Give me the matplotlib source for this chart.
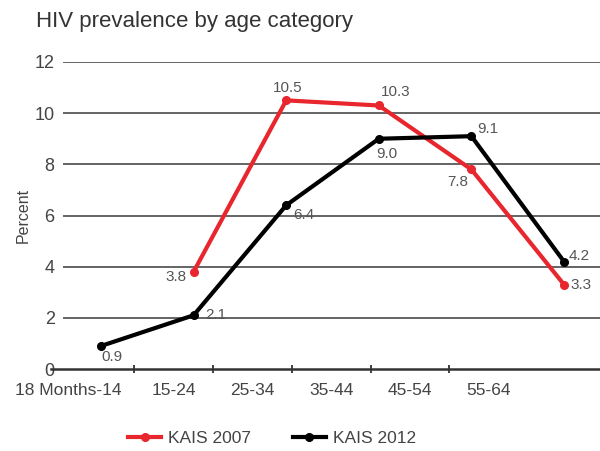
import matplotlib
matplotlib.use('Agg')
import matplotlib.pyplot as plt
from matplotlib.transforms import ScaledTranslation
import numpy as np

plt.rcParams['font.family'] = ['Liberation Sans', 'DejaVu Sans']

categories = ['18 Months-14', '15-24', '25-34', '35-44', '45-54', '55-64']
kais2007 = [np.nan, 3.8, 10.5, 10.3, 7.8, 3.3]
kais2012 = [0.9, 2.1, 6.4, 9.0, 9.1, 4.2]
# label offsets in points (dx, dy)
off2007 = [None, (-13, -4), (1, 9), (12, 10), (-10, -9), (12, 0)]
off2012 = [(8, -8), (16, 0), (13, -7), (6, -11), (12, 5), (11, 4)]

red = '#e8262d'
grey = '#444444'

fig = plt.figure(figsize=(6, 4.51), dpi=100)
W, H = 600, 451
ax = fig.add_axes([63/W, 1-369/H, 1-63/W, (369-62)/H])

# category frame (labels + ticks)
cw = 78.75
ax.set_xlim((63-95)/cw, (600-95)/cw)
ax.set_ylim(0, 12)
for s in ax.spines.values():
	s.set_visible(False)
for y in range(2, 13, 2):
	ax.axhline(y, color='#3a3a3a', lw=1.1, zorder=1)
ax.axhline(0, xmin=-12/537, xmax=1, color='#333333', lw=1.8, clip_on=False, zorder=2)
ax.set_yticks(range(0, 13, 2))
ax.tick_params(axis='y', length=0, pad=6, labelsize=13, labelcolor=grey)
# boundary ticks between categories
ax.vlines(np.arange(len(categories)-1)+0.5, -0.16, 0.16, color='#333333', lw=1.3,
	clip_on=False, zorder=4)
ax.set_xticks(np.arange(len(categories)))
ax.set_xticklabels(categories)
ax.tick_params(axis='x', length=0, pad=10, labelsize=12.5, labelcolor=grey)
lab0 = ax.get_xticklabels()[0]
lab0.set_transform(lab0.get_transform() + ScaledTranslation(-0.27, 0, fig.dpi_scale_trans))
ax.set_ylabel('Percent', fontsize=11.5, color=grey, labelpad=3)

# data frame
ax2 = ax.twiny()
pw = 92.6
ax2.set_xlim((63-101)/pw, (600-101)/pw)
ax2.set_ylim(0, 12)
ax2.set_xticks([])
for s in ax2.spines.values():
	s.set_visible(False)
x = np.arange(len(categories))
ax2.plot(x, kais2007, color=red, lw=3, marker='o', ms=5.5, label='KAIS 2007', zorder=3)
ax2.plot(x, kais2012, color='black', lw=3, marker='o', ms=5.5, label='KAIS 2012', zorder=3)
for i in range(len(categories)):
	if not np.isnan(kais2007[i]):
		ax2.annotate('%.1f' % kais2007[i], (x[i], kais2007[i]), xytext=off2007[i],
			textcoords='offset points', ha='center', va='center', fontsize=11, color='#555555')
	ax2.annotate('%.1f' % kais2012[i], (x[i], kais2012[i]), xytext=off2012[i],
		textcoords='offset points', ha='center', va='center', fontsize=11, color='#555555')

fig.text(36/W, 1-22/H, 'HIV prevalence by age category', fontsize=16, color='#333333', va='center')
fig.legend(loc='center', bbox_to_anchor=(272/W, 1-438/H), ncol=2, frameon=False,
	fontsize=12.5, handlelength=1.9, columnspacing=2.4, handletextpad=0.4, labelcolor=grey)

fig.savefig('out.png', dpi=100)
